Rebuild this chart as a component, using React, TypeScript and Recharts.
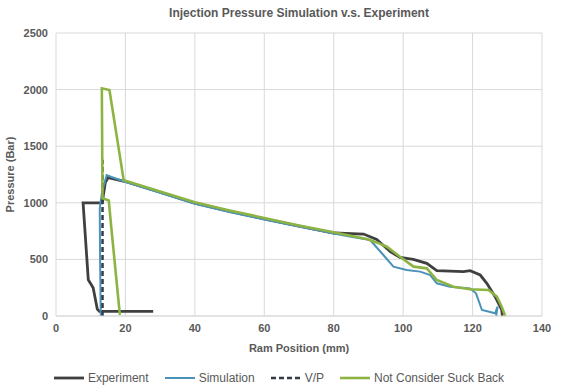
import React from 'react';
import { LineChart, Line, XAxis, YAxis, CartesianGrid, Legend } from 'recharts';

// ram position (mm) / pressure (bar)
const expX = [128.6, 128.4, 126.5, 124.1, 122.2, 119.3, 117.4, 109.7, 106.8, 102.9, 99.1, 96.3, 92.4, 88.6, 80, 70, 60, 50, 40, 30, 20, 15, 14.2, 13.3, 13, 7.8, 9.3, 10.7, 11.9, 12.5, 28];
const expY = [0, 53, 171, 289, 362, 400, 392, 400, 465, 500, 518, 568, 677, 724, 733, 795, 858, 925, 998, 1093, 1188, 1222, 1180, 1000, 1000, 1000, 320, 250, 60, 40, 40];

const simX = [126.8, 127.2, 126.5, 122.7, 121, 119.3, 113.5, 109.7, 107.8, 104.9, 101, 97.2, 94.3, 90.5, 85, 80, 70, 60, 50, 40, 30, 20, 16, 14.6, 13.3, 12.6, 12.7, 12.9];
const simY = [0, 82, 24, 53, 200, 244, 259, 289, 362, 392, 406, 436, 539, 671, 700, 728, 790, 853, 918, 992, 1088, 1184, 1228, 1245, 1100, 950, 500, 0];

const vpX = [13.4, 13.4];
const vpY = [0, 1380];

const nsbX = [129.4, 128.4, 127, 124.6, 119.3, 114.5, 109.7, 106.8, 103, 99.1, 95.3, 92.4, 89.5, 80, 70, 60, 50, 40, 30, 20, 19.5, 15.4, 13.2, 13.4, 15.2, 16, 18.4];
const nsbY = [0, 82, 171, 230, 236, 259, 318, 421, 436, 524, 612, 650, 680, 740, 800, 866, 932, 1005, 1100, 1195, 1200, 1996, 2011, 1040, 1020, 760, 10];

const xTicks = [0, 20, 40, 60, 80, 100, 120, 140];
const yTicks = [0, 500, 1000, 1500, 2000, 2500];

const zip = (xs: number[], ys: number[]) => xs.map((x, i) => ({ x, y: ys[i] }));

const series = [
  { name: 'Experiment', data: zip(expX, expY), color: '#404040', width: 2.8, dash: undefined },
  { name: 'Simulation', data: zip(simX, simY), color: '#4a92b8', width: 2, dash: undefined },
  { name: 'V/P', data: zip(vpX, vpY), color: '#333c48', width: 2.5, dash: '5 3' },
  { name: 'Not Consider Suck Back', data: zip(nsbX, nsbY), color: '#8db443', width: 2.6, dash: undefined },
];

const FONT = '"Liberation Sans", Arial, sans-serif';
const TEXT = '#595959';

const LegendContent = () => (
  <div style={{ display: 'flex', justifyContent: 'center', alignItems: 'center', fontFamily: FONT, fontSize: 12, color: TEXT, paddingTop: 5 }}>
    {series.map((s, i) => (
      <div key={s.name} style={{ display: 'flex', alignItems: 'center', marginLeft: i === 0 ? 0 : 16 }}>
        <svg width={30} height={6} style={{ marginRight: 4 }}>
          <line x1={0} y1={3} x2={30} y2={3} stroke={s.color} strokeWidth={s.width} strokeDasharray={s.dash} />
        </svg>
        <span>{s.name}</span>
      </div>
    ))}
  </div>
);

export default function App() {
  return (
    <div style={{ position: 'absolute', left: 0, top: 0, width: 567, height: 389, background: '#fff' }}>
      <div style={{ position: 'absolute', top: 6, left: 56, width: 486, textAlign: 'center', fontFamily: FONT, fontSize: 12, fontWeight: 'bold', color: TEXT }}>
        Injection Pressure Simulation v.s. Experiment
      </div>
      <LineChart width={567} height={389} margin={{ top: 33, right: 25, bottom: 3, left: 16 }}>
        <CartesianGrid stroke="#d9d9d9" />
        <XAxis
          dataKey="x"
          type="number"
          domain={[0, 140]}
          ticks={xTicks}
          height={50}
          stroke="#d9d9d9"
          tickLine={false}
          tick={{ fill: TEXT, fontSize: 11, fontFamily: FONT, fontWeight: 'bold' }}
          label={{ value: 'Ram Position (mm)', position: 'insideBottom', offset: 14, fill: TEXT, fontSize: 11, fontFamily: FONT, fontWeight: 'bold' }}
        />
        <YAxis
          type="number"
          domain={[0, 2500]}
          ticks={yTicks}
          width={40}
          axisLine={false}
          tickLine={false}
          tick={{ fill: TEXT, fontSize: 11, fontFamily: FONT, fontWeight: 'bold' }}
          label={{ value: 'Pressure (Bar)', angle: -90, position: 'insideLeft', offset: -6, style: { textAnchor: 'middle' }, fill: TEXT, fontSize: 11, fontFamily: FONT, fontWeight: 'bold' }}
        />
        <Legend verticalAlign="bottom" height={20} content={LegendContent} />
        {series.map(s => (
          <Line
            key={s.name}
            data={s.data}
            dataKey="y"
            name={s.name}
            type="linear"
            stroke={s.color}
            strokeWidth={s.width}
            strokeDasharray={s.dash}
            dot={false}
            activeDot={false}
            isAnimationActive={false}
          />
        ))}
      </LineChart>
    </div>
  );
}
